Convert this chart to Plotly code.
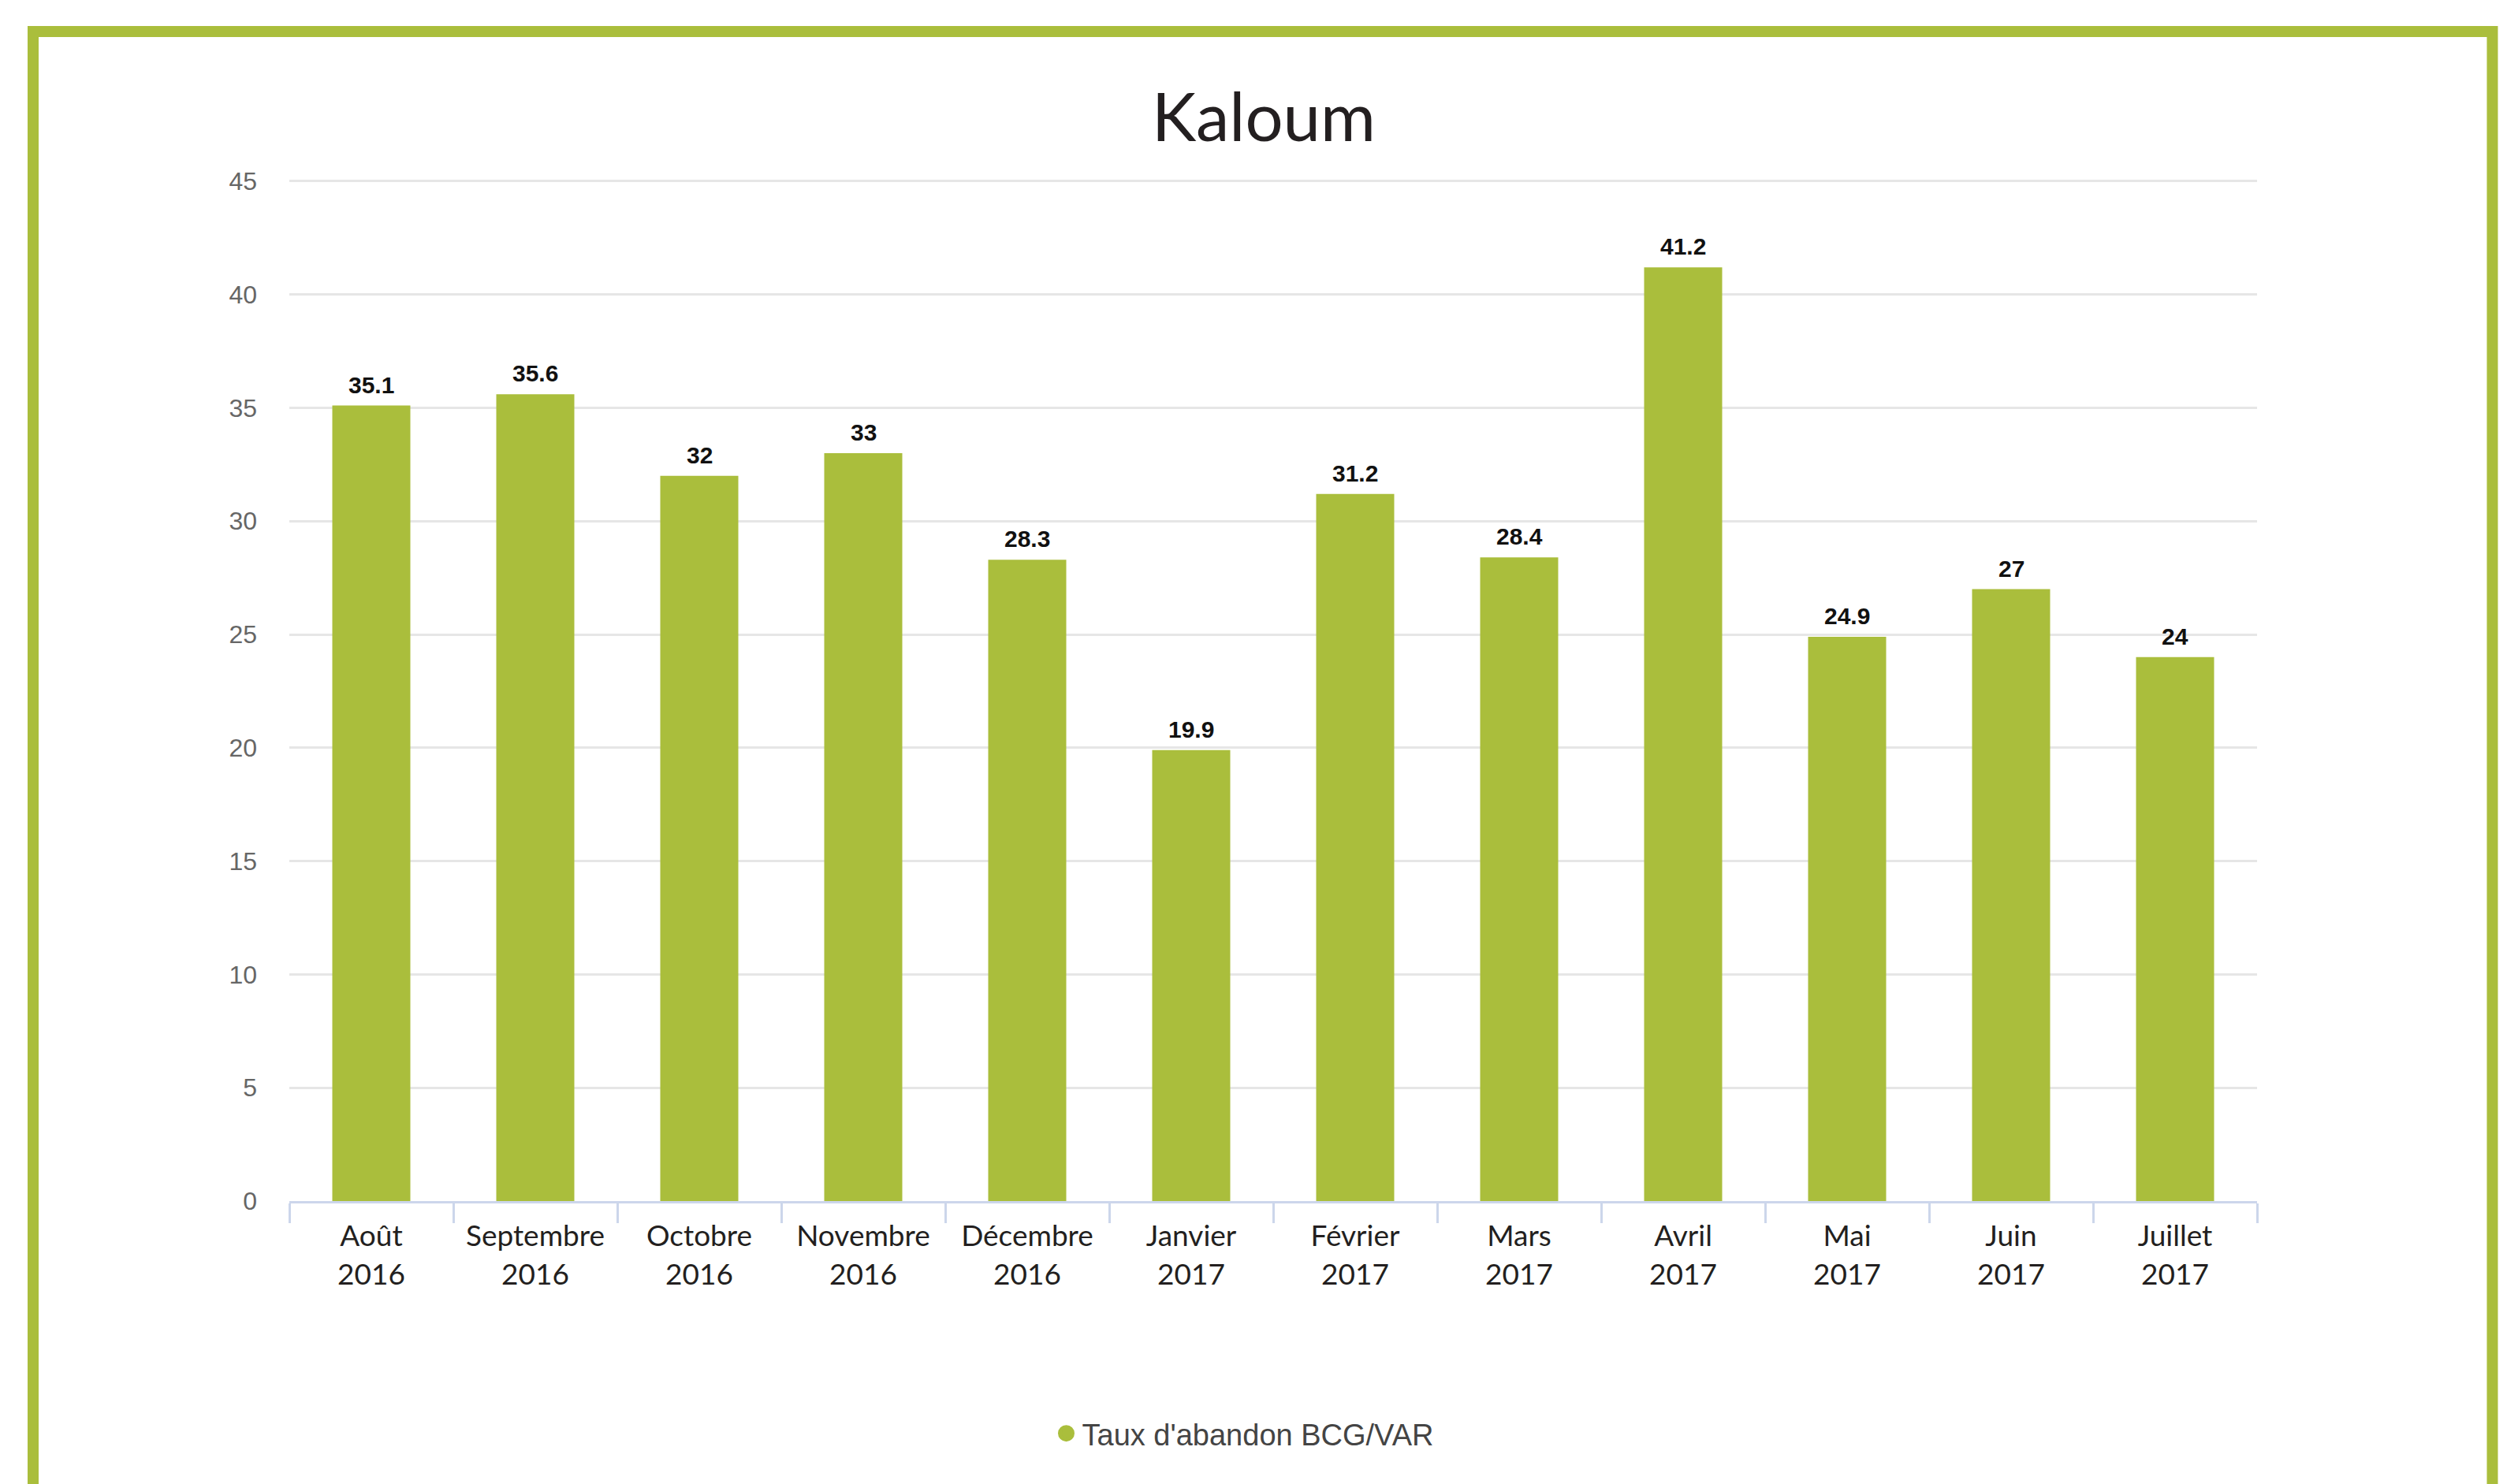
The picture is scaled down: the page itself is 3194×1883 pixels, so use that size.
import plotly.graph_objects as go

# ---- data ----
months = ["Août", "Septembre", "Octobre", "Novembre", "Décembre", "Janvier",
          "Février", "Mars", "Avril", "Mai", "Juin", "Juillet"]
years = ["2016", "2016", "2016", "2016", "2016", "2017",
         "2017", "2017", "2017", "2017", "2017", "2017"]
values = [35.1, 35.6, 32, 33, 28.3, 19.9, 31.2, 28.4, 41.2, 24.9, 27, 24]
value_labels = ["35.1", "35.6", "32", "33", "28.3", "19.9", "31.2", "28.4", "41.2", "24.9", "27", "24"]
y_ticks = [0, 5, 10, 15, 20, 25, 30, 35, 40, 45]
series_name = "Taux d'abandon BCG/VAR"
title_text = "Kaloum"

categories = [f"{m}<br>{y}" for m, y in zip(months, years)]

GREEN = "#AABE3C"
OFF = 8  # page body margin
W, H = 3194, 1883
Y_TOP = 45.1
px_per_unit = 1294 / 45.0
L = 367 - OFF
T = int(round(230 - OFF - (Y_TOP - 45) * px_per_unit))
R = W - (2863 - OFF)
B = H - (1524 - OFF)
PW, PH = W - L - R, H - T - B

fig = go.Figure()
fig.add_trace(go.Bar(
    x=categories, y=values, marker=dict(color=GREEN, line=dict(width=0)),
    showlegend=False, hoverinfo="x+y", name=series_name,
))
# legend entry (circle symbol)
fig.add_trace(go.Scatter(
    x=[None], y=[None], mode="markers", name=series_name,
    marker=dict(symbol="circle", size=16, color=GREEN, line=dict(color=GREEN, width=5)),
    showlegend=True,
))

annotations = []
for c, v, t in zip(categories, values, value_labels):
    annotations.append(dict(
        x=c, y=v, xref="x", yref="y", text=t, showarrow=False,
        yanchor="bottom", xanchor="center", yshift=8,
        font=dict(family="Liberation Sans, Arial, sans-serif", size=30, color="#111111", weight="bold"),
    ))
fig.update_layout(annotations=annotations)


def px_x(p):
    return (p - OFF - L) / PW


def px_y(p):
    return (H - B - (p - OFF)) / PH


fig.add_shape(type="rect", xref="paper", yref="paper",
              x0=px_x(42), x1=px_x(3161.5), y0=px_y(1990), y1=px_y(40),
              line=dict(color=GREEN, width=14), fillcolor="rgba(0,0,0,0)", layer="above")

fig.update_layout(
    width=W, height=H,
    margin=dict(l=L, r=R, t=T, b=B, pad=0),
    paper_bgcolor="white", plot_bgcolor="white",
    bargap=0.524,
    title=dict(text=title_text, x=(1603 - OFF) / W, xref="container", xanchor="center",
               y=1 - (149 - OFF) / H, yref="container", yanchor="middle",
               font=dict(family="Lato, sans-serif", size=85, color="#231F20")),
    xaxis=dict(
        type="category", showgrid=False, zeroline=False,
        showline=True, linecolor="#CCD6EB", linewidth=3,
        ticks="outside", tickson="boundaries", ticklen=25, tickwidth=3, tickcolor="#CCD6EB",
        ticklabelstandoff=10,
        tickfont=dict(family="Lato, sans-serif", size=37, color="#231F20"),
        fixedrange=True,
    ),
    yaxis=dict(
        range=[0, Y_TOP], tickvals=y_ticks,
        showgrid=True, gridcolor="#E6E6E6", gridwidth=2.5,
        zeroline=False, showline=False, ticks="", ticklabelstandoff=40,
        tickfont=dict(family="Liberation Sans, Arial, sans-serif", size=32, color="#666666"),
        fixedrange=True,
    ),
    legend=dict(
        orientation="h", x=px_x(1578), xanchor="center", y=px_y(1819), yanchor="middle",
        font=dict(family="Liberation Sans, Arial, sans-serif", size=38, color="#444444"),
        bgcolor="rgba(0,0,0,0)",
    ),
)

fig.write_html("out.html")
